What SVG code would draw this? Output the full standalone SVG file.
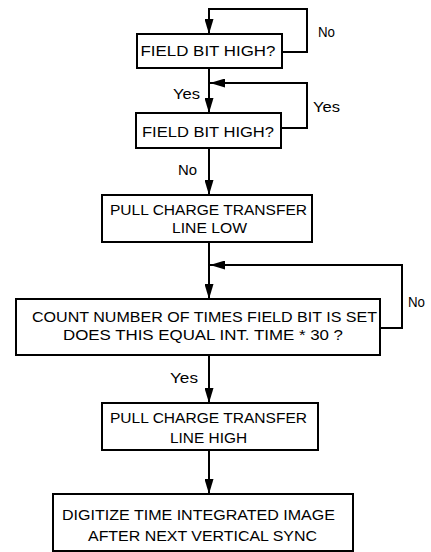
<svg xmlns="http://www.w3.org/2000/svg" width="431" height="552" viewBox="0 0 431 552">
<defs>
<style>
.box{fill:#fff;stroke:#000;stroke-width:2}
.t{font-family:"Liberation Sans",Arial,sans-serif;font-size:15px;fill:#000;text-anchor:middle}
.l{font-family:"Liberation Sans",Arial,sans-serif;font-size:14px;fill:#000}
.c{fill:none;stroke:#000;stroke-width:2}
</style>
<marker id="ah" markerUnits="userSpaceOnUse" markerWidth="15" markerHeight="9" refX="15" refY="4.5" orient="auto">
<path d="M0,0 L15,4.5 L0,9 Z" fill="#000"/>
</marker>
</defs>
<rect width="431" height="552" fill="#fff"/>
<g id="connectors">
<path class="c" d="M282,52 H307 V9 H209 V34" marker-end="url(#ah)"/>
<path class="c" d="M209,68 V113" marker-end="url(#ah)"/>
<path class="c" d="M281,128 H307 V83 H210" marker-end="url(#ah)"/>
<path class="c" d="M209,148 V195" marker-end="url(#ah)"/>
<path class="c" d="M209,242 V299" marker-end="url(#ah)"/>
<path class="c" d="M380,328 H402 V265 H210" marker-end="url(#ah)"/>
<path class="c" d="M209,355 V403" marker-end="url(#ah)"/>
<path class="c" d="M209,450 V494" marker-end="url(#ah)"/>
<text class="l" x="318" y="37" textLength="17" lengthAdjust="spacingAndGlyphs">No</text>
<text class="l" x="173" y="99" textLength="27" lengthAdjust="spacingAndGlyphs">Yes</text>
<text class="l" x="313" y="112" textLength="27" lengthAdjust="spacingAndGlyphs">Yes</text>
<text class="l" x="178" y="175" textLength="19" lengthAdjust="spacingAndGlyphs">No</text>
<text class="l" x="408" y="307" textLength="17" lengthAdjust="spacingAndGlyphs">No</text>
<text class="l" x="170" y="383" textLength="28" lengthAdjust="spacingAndGlyphs">Yes</text>
</g>
<g id="n1">
<rect class="box" x="137" y="34" width="145" height="34"/>
<text class="t" x="208" y="56" textLength="135" lengthAdjust="spacingAndGlyphs">FIELD BIT HIGH?</text>
</g>
<g id="n2">
<rect class="box" x="136" y="113" width="145" height="35"/>
<text class="t" x="208" y="137" textLength="132" lengthAdjust="spacingAndGlyphs">FIELD BIT HIGH?</text>
</g>
<g id="n3">
<rect class="box" x="102" y="195" width="210" height="47"/>
<text class="t" x="208.5" y="215" textLength="197" lengthAdjust="spacingAndGlyphs">PULL CHARGE TRANSFER</text>
<text class="t" x="209.5" y="233" textLength="75" lengthAdjust="spacingAndGlyphs">LINE LOW</text>
</g>
<g id="n4">
<rect class="box" x="16" y="299" width="364" height="56"/>
<text class="t" x="204.5" y="322" textLength="345" lengthAdjust="spacingAndGlyphs">COUNT NUMBER OF TIMES FIELD BIT IS SET</text>
<text class="t" x="203" y="340" textLength="280" lengthAdjust="spacingAndGlyphs">DOES THIS EQUAL INT. TIME * 30 ?</text>
</g>
<g id="n5">
<rect class="box" x="102" y="403" width="216" height="47"/>
<text class="t" x="208.5" y="423" textLength="197" lengthAdjust="spacingAndGlyphs">PULL CHARGE TRANSFER</text>
<text class="t" x="208.5" y="443" textLength="77" lengthAdjust="spacingAndGlyphs">LINE HIGH</text>
</g>
<g id="n6">
<rect class="box" x="53" y="494" width="300" height="57"/>
<text class="t" x="198.5" y="520" textLength="273" lengthAdjust="spacingAndGlyphs">DIGITIZE TIME INTEGRATED IMAGE</text>
<text class="t" x="202.5" y="541" textLength="229" lengthAdjust="spacingAndGlyphs">AFTER NEXT VERTICAL SYNC</text>
</g>
</svg>
